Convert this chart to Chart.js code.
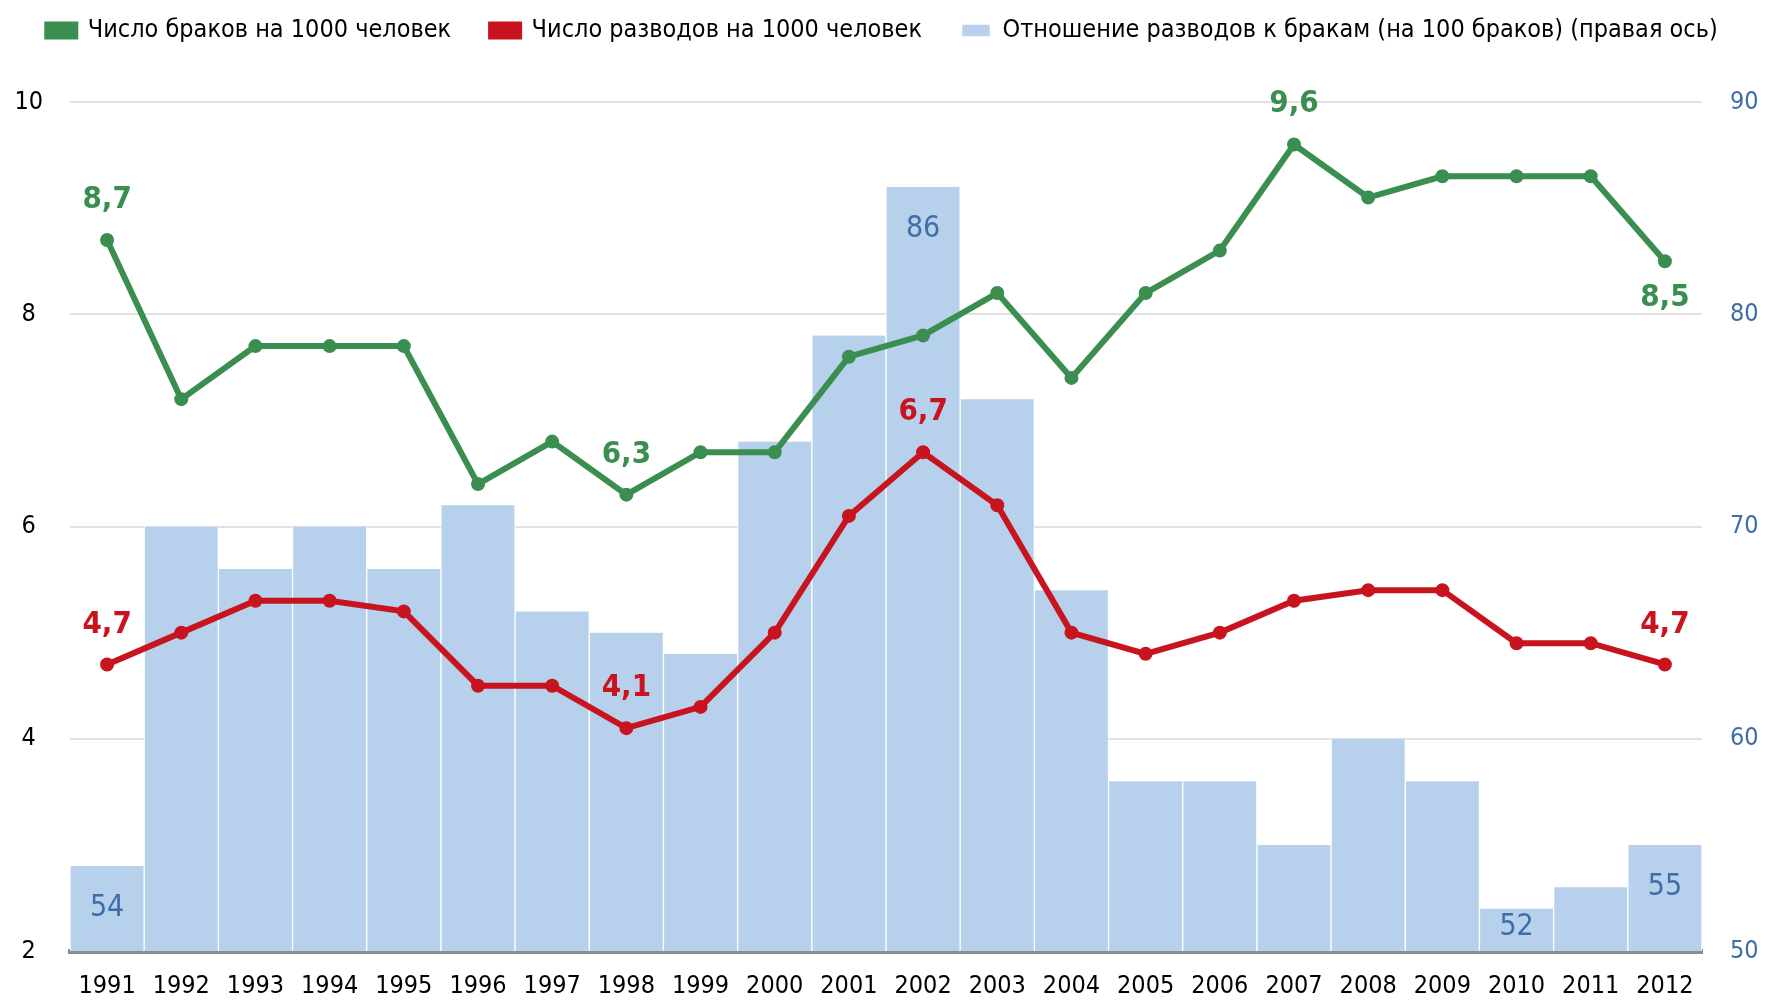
<!DOCTYPE html>
<html>
<head>
<meta charset="utf-8">
<script src="https://cdn.jsdelivr.net/npm/chart.js@4"></script>
<style>
  html, body { margin: 0; padding: 0; background: #fff; }
  #wrap { width: 1765px; height: 1000px; }
</style>
</head>
<body>
<div id="wrap"><canvas id="chart"></canvas></div>
<script>
const years = ['1991','1992','1993','1994','1995','1996','1997','1998','1999','2000','2001',
               '2002','2003','2004','2005','2006','2007','2008','2009','2010','2011','2012'];
const marriages = [8.7, 7.2, 7.7, 7.7, 7.7, 6.4, 6.8, 6.3, 6.7, 6.7, 7.6,
                   7.8, 8.2, 7.4, 8.2, 8.6, 9.6, 9.1, 9.3, 9.3, 9.3, 8.5];
const divorces = [4.7, 5.0, 5.3, 5.3, 5.2, 4.5, 4.5, 4.1, 4.3, 5.0, 6.1,
                  6.7, 6.2, 5.0, 4.8, 5.0, 5.3, 5.4, 5.4, 4.9, 4.9, 4.7];
const ratio = [54, 70, 68, 70, 68, 71, 66, 65, 64, 74, 79,
               86, 76, 67, 58, 58, 55, 60, 58, 52, 53, 55];
const leftTicks = [2, 4, 6, 8, 10];
const rightTicks = [50, 60, 70, 80, 90];

// which points get a value label
const marriageLabels = { 0: 'above', 7: 'above', 16: 'above', 21: 'below' };
const divorceLabels = { 0: 'above', 7: 'above', 11: 'above', 21: 'above' };
const ratioLabels = [0, 11, 19, 21];

const FONT = '"DejaVu Sans Condensed", "Liberation Sans Narrow", Roboto, sans-serif';
const GREEN = '#3a8e4f';
const RED = '#c8141e';
const BAR = '#b7d0ec';
const BLUE = '#3f6da6';

const comma = v => v.toFixed(1).replace('.', ',');

// extra room under the legend, and legend pulled up a bit
const legendGap = {
  id: 'legendGap',
  beforeInit(chart) {
    const fit = chart.legend.fit;
    chart.legend.fit = function () {
      fit.call(this);
      this.height += 27;
    };
  },
  afterLayout(chart) {
    chart.legend.top = -22;
  }
};

const valueLabels = {
  id: 'valueLabels',
  afterDatasetsDraw(chart) {
    const ctx = chart.ctx;
    const bottom = chart.chartArea.bottom;
    ctx.save();
    ctx.textAlign = 'center';
    ctx.textBaseline = 'middle';

    // bar labels
    const barMeta = chart.getDatasetMeta(0);
    ctx.font = '30px ' + FONT;
    ctx.fillStyle = BLUE;
    ratioLabels.forEach(i => {
      const el = barMeta.data[i];
      const y = Math.min(el.y + 42, bottom - 24);
      ctx.fillText(String(ratio[i]), el.x, y);
    });

    // line labels
    ctx.font = 'bold 31px ' + FONT;
    [[1, marriageLabels, marriages, GREEN], [2, divorceLabels, divorces, RED]].forEach(([di, map, vals, col]) => {
      const meta = chart.getDatasetMeta(di);
      ctx.fillStyle = col;
      Object.keys(map).forEach(k => {
        const el = meta.data[k];
        const dy = map[k] === 'above' ? -40 : 37;
        ctx.fillText(comma(vals[k]), el.x, el.y + dy);
      });
    });
    ctx.restore();
  }
};

new Chart(document.getElementById('chart'), {
  type: 'bar',
  data: {
    labels: years,
    datasets: [
      {
        type: 'bar',
        label: 'Отношение разводов к бракам (на 100 браков) (правая ось)',
        data: ratio,
        yAxisID: 'yRight',
        backgroundColor: BAR,
        borderColor: '#ffffff',
        borderWidth: { left: 1, right: 1, top: 0, bottom: 0 },
        borderSkipped: false,
        barPercentage: 1,
        categoryPercentage: 1,
        order: 3
      },
      {
        type: 'line',
        label: 'Число браков на 1000 человек',
        data: marriages,
        yAxisID: 'yLeft',
        borderColor: GREEN,
        backgroundColor: GREEN,
        borderWidth: 6,
        pointRadius: 4,
        pointBackgroundColor: GREEN,
        tension: 0,
        order: 1
      },
      {
        type: 'line',
        label: 'Число разводов на 1000 человек',
        data: divorces,
        yAxisID: 'yLeft',
        borderColor: RED,
        backgroundColor: RED,
        borderWidth: 6,
        pointRadius: 4,
        pointBackgroundColor: RED,
        tension: 0,
        order: 2
      }
    ]
  },
  options: {
    responsive: true,
    maintainAspectRatio: false,
    animation: false,
    layout: { padding: { top: 0, left: 0, right: 0, bottom: 0 } },
    plugins: {
      tooltip: { enabled: false },
      legend: {
        position: 'top',
        labels: {
          font: { family: FONT, size: 25 },
          color: '#000',
          boxWidth: 28,
          boxHeight: 12,
          padding: 40,
          sort: (a, b) => b.datasetIndex === 0 ? -1 : (a.datasetIndex === 0 ? 1 : a.datasetIndex - b.datasetIndex)
        }
      }
    },
    scales: {
      x: {
        offset: true,
        grid: { display: false, drawTicks: false },
        border: { color: '#8c8c8c', width: 5 },
        afterFit: axis => { axis.height = 49; },
        ticks: { font: { family: FONT, size: 25 }, color: '#000', padding: 20, maxRotation: 0, autoSkip: false }
      },
      yLeft: {
        position: 'left',
        min: 2,
        max: 10,
        afterBuildTicks: axis => { axis.ticks = leftTicks.map(v => ({ value: v })); },
        afterFit: axis => { axis.width = 70; },
        grid: { color: '#e2e2e2', lineWidth: 2, drawTicks: false },
        border: { display: false },
        ticks: { font: { family: FONT, size: 25 }, color: '#000', padding: 27, crossAlign: 'center' }
      },
      yRight: {
        position: 'right',
        min: 50,
        max: 90,
        afterBuildTicks: axis => { axis.ticks = rightTicks.map(v => ({ value: v })); },
        afterFit: axis => { axis.width = 63; },
        grid: { display: false },
        border: { display: false },
        ticks: { font: { family: FONT, size: 25 }, color: BLUE, padding: 20, crossAlign: 'center' }
      }
    }
  },
  plugins: [legendGap, valueLabels]
});
</script>
</body>
</html>
